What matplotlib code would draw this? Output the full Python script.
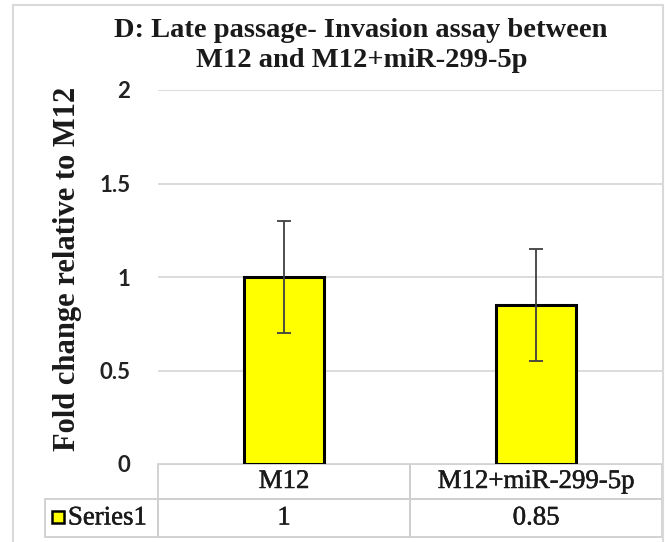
import matplotlib
matplotlib.use('Agg')
from matplotlib import pyplot as plt
from matplotlib import patheffects
from matplotlib.patches import Rectangle
from matplotlib.table import Table

# chart data
categories = ['M12', 'M12+miR-299-5p']
fold_change = [1.0, 0.85]
errors = [0.30, 0.30]
series_name = 'Series1'
table_values = ['1', '0.85']
yticks = [0, 0.5, 1, 1.5, 2]
ytick_labels = ['0', '0.5', '1', '1.5', '2']
title_lines = ['D: Late passage- Invasion assay between', 'M12 and M12+miR-299-5p']
ylabel = 'Fold change relative to M12'

W, H = 665, 542
SERIF = 'Liberation Serif'
GRID = '#d9d9d9'
EDGE = '#cfcfcf'
INK = '#1a1a1a'


def fx(px):
    return px / W


def fy(py):
    return 1 - py / H


fig = plt.figure(figsize=(W / 100, H / 100), dpi=100)

# plot area in pixels
left, right, top, bottom = 158, 662, 90, 464
aw, ah = right - left, bottom - top
ax = fig.add_axes([fx(left), fy(bottom), aw / W, ah / H])

x = list(range(len(categories)))
ax.bar(x, fold_change, width=0.32, color='#ffff00', edgecolor='black',
       linewidth=2.2, zorder=3,
       yerr=errors,
       error_kw=dict(ecolor='#404040', elinewidth=1.3, capsize=4.8, capthick=1.3, zorder=4))

ax.set_xlim(-0.5, len(categories) - 0.5)
ax.set_ylim(0, 2)
ax.set_yticks(yticks)
ax.set_yticklabels(ytick_labels, fontfamily='Lato', fontweight='bold', fontsize=16,
                   color='#222222')
ax.set_xticks([])
ax.tick_params(axis='y', length=0, pad=20)
ax.yaxis.grid(True, color=GRID, linewidth=1.3)
ax.set_axisbelow(True)
for s in ax.spines.values():
    s.set_visible(False)

# data table under the plot (sizes as axes fractions)
row_h = [35 / ah, 38 / ah]
label_w = (left - 45) / aw
col_w = 1 / len(categories)
tbl = Table(ax, bbox=[0, -sum(row_h), 1, sum(row_h)])
for j, cat in enumerate(categories):
    tbl.add_cell(0, j, width=col_w, height=row_h[0], text=cat, loc='center',
                 edgecolor=EDGE, facecolor='none')
tbl.add_cell(1, -1, width=label_w, height=row_h[1], text=series_name, loc='right',
             edgecolor=EDGE, facecolor='none')
for j, val in enumerate(table_values):
    tbl.add_cell(1, j, width=col_w, height=row_h[1], text=val, loc='center',
                 edgecolor=EDGE, facecolor='none')
tbl.auto_set_font_size(False)
tbl.set_fontsize(19.3)
# regular serif looks too thin next to the blurry original, thicken it a bit
thicker = [patheffects.withStroke(linewidth=0.35, foreground=INK)]
for cell in tbl.get_celld().values():
    cell.set_linewidth(1.3)
    t = cell.get_text()
    t.set_fontfamily(SERIF)
    t.set_color(INK)
    t.set_path_effects(thicker)
ax.add_table(tbl)

# legend key in the table row label
fig.patches.append(Rectangle((fx(52), fy(523)), 12 / W, 12 / H, transform=fig.transFigure,
                             facecolor='#ffff00', edgecolor='black', linewidth=1.8))

# title and axis label
fig.text(fx(361), fy(37), title_lines[0], ha='center', va='baseline',
         fontfamily=SERIF, fontweight='bold', fontsize=20.5, color=INK)
fig.text(fx(362), fy(67), title_lines[1], ha='center', va='baseline',
         fontfamily=SERIF, fontweight='bold', fontsize=20.5, color=INK)
fig.text(fx(68), fy(269), ylabel, rotation=90, ha='center', va='center',
         fontfamily=SERIF, fontweight='bold', fontsize=22, color=INK)

# outer chart frame
fig.patches.append(Rectangle((fx(13), fy(548)), 650 / W, 543 / H, transform=fig.transFigure,
                             facecolor='none', edgecolor=GRID, linewidth=1.5))

fig.savefig('out.png', dpi=100)
